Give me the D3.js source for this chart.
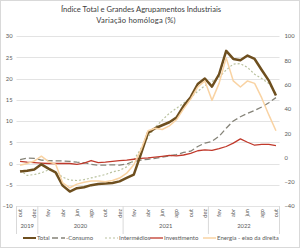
<!DOCTYPE html>
<html>
<head>
<meta charset="utf-8">
<script src="https://cdn.jsdelivr.net/npm/d3@7"></script>
<style>
    body{
        margin : 0;
        background : #fff;
    }
    text{
        font-family : Lato, "Open Sans", sans-serif;
    }
</style>
</head>
<body>
<div id="chart"></div>
<script>
    // meses de out 2019 a out 2022
    const months = ['out','nov','dez','jan','fev','mar','abr','mai','jun','jul','ago','set',
        'out','nov','dez','jan','fev','mar','abr','mai','jun','jul','ago','set',
        'out','nov','dez','jan','fev','mar','abr','mai','jun','jul','ago','set','out'];
    const years = [
        {label:'2019', from:0, to:2},
        {label:'2020', from:3, to:14},
        {label:'2021', from:15, to:26},
        {label:'2022', from:27, to:36}
    ];
    const leftTicks = [-10,-5,0,5,10,15,20,25,30];
    const rightTicks = [-40,-20,0,20,40,60,80,100];

    const total = [-1.9,-1.7,-1.4,-0.2,-1.2,-2.1,-5.2,-6.6,-5.8,-5.6,-5.1,-4.8,
        -4.7,-4.6,-4.2,-3.4,-2.6,2.2,7.2,8.3,9.0,9.7,10.8,13.5,
        15.6,18.7,20.0,18.1,21.0,26.5,24.6,24.3,25.4,24.6,22.0,19.5,16.0];
    const consumo = [0.9,1.3,1.2,0.8,0.7,0.6,0.6,0.5,0.3,0.2,-0.2,-0.4,
        -0.4,-0.3,-0.4,-0.1,0.5,0.8,1.0,1.2,1.5,1.8,2.1,2.6,
        2.9,4.0,4.8,5.2,6.4,8.3,10.0,11.0,11.8,12.5,13.3,14.3,15.5];
    const intermedios = [-1.6,-2.8,-2.6,-2.2,-1.5,-2.0,-3.2,-3.9,-4.0,-3.8,-3.4,-3.0,
        -2.6,-2.0,-1.6,-0.8,0.8,3.5,6.2,8.5,10.2,11.8,13.0,14.2,
        15.5,17.0,18.3,19.3,20.3,22.0,23.4,23.5,22.6,21.0,20.0,18.8,16.5];
    const investimento = [0.5,0.3,0.2,0.1,0.0,0.0,0.0,0.0,-0.2,0.1,0.7,0.2,
        0.3,0.5,0.7,0.8,1.0,1.2,1.3,1.5,1.7,1.9,1.8,2.0,
        2.4,3.0,3.2,3.1,3.5,4.0,4.8,5.8,5.0,4.3,4.5,4.5,4.2];
    const energia = [-6.5,-5,-3,1,-3.5,-5.5,-21,-25,-22,-20.5,-19.5,-19.5,
        -20,-19,-17,-13,-6,6,22,24,23,26,31,40,
        48,58,63,47,61,82,63,58,63,61,49,35,22];

    const series = [
        {name:'Total', values:total, axis:'left', color:'#6e4f1f', width:2.5, dash:null},
        {name:'-Consumo', values:consumo, axis:'left', color:'#858378', width:1.3, dash:'6,3'},
        {name:'Intermédios', values:intermedios, axis:'left', color:'#b9c29f', width:1.2, dash:'2,2'},
        {name:'Investimento', values:investimento, axis:'left', color:'#c0392b', width:1.3, dash:null},
        {name:'Energia - eixo da direita', values:energia, axis:'right', color:'#f9d3a3', width:1.5, dash:null}
    ];

    const width = 300, height = 248;
    const plot = {left:16.5, right:279.5, top:36, bottom:206};

    let svg = d3.select('#chart').append('svg')
        .attr('width',width)
        .attr('height',height);

    svg.append('rect')
        .attr('x',0.5).attr('y',0.5)
        .attr('width',width-1).attr('height',height-1)
        .attr('fill','#fff')
        .attr('stroke','#d9d9d9');

    let x = d3.scalePoint()
        .domain(d3.range(months.length))
        .range([plot.left,plot.right])
        .padding(0.5);
    let step = x.step();

    let yL = d3.scaleLinear().domain([-10,30]).range([plot.bottom,plot.top]);
    let yR = d3.scaleLinear().domain([-40,100]).range([plot.bottom,plot.top]);

    // titulo
    svg.append('text')
        .attr('x',141).attr('y',11.5)
        .attr('text-anchor','middle')
        .style('font-size','7.6px')
        .style('fill','#404040')
        .text('Índice Total e Grandes Agrupamentos Industriais');
    svg.append('text')
        .attr('x',136).attr('y',23)
        .attr('text-anchor','middle')
        .style('font-size','7.6px')
        .style('letter-spacing','0.2px')
        .style('fill','#404040')
        .text('Variação homóloga (%)');

    // grelha
    svg.append('g')
        .selectAll('line')
        .data(leftTicks)
        .enter()
        .append('line')
        .attr('x1',plot.left).attr('x2',plot.right)
        .attr('y1',function(d){return Math.round(yL(d))+0.5;})
        .attr('y2',function(d){return Math.round(yL(d))+0.5;})
        .attr('stroke','#e3e3e3')
        .attr('stroke-width',1);

    let leftAxis = svg.append('g')
        .attr('transform','translate('+(plot.left)+',0)')
        .call(d3.axisLeft(yL).tickValues(leftTicks).tickSize(0).tickPadding(4));
    let rightAxis = svg.append('g')
        .attr('transform','translate('+(plot.right)+',0)')
        .call(d3.axisRight(yR).tickValues(rightTicks).tickSize(0).tickPadding(5));
    [leftAxis,rightAxis].forEach(function(a){
        a.select('.domain').remove();
        a.selectAll('text')
            .style('font-size','5.8px')
            .style('fill','#595959')
            .style('font-family','Lato, "Open Sans", sans-serif');
    });

    // eixo das categorias (meses e anos)
    let xAxis = svg.append('g');
    xAxis.selectAll('text.month')
        .data(months.map(function(m,i){return {m:m,i:i};}).filter(function(d){return d.i%2===0;}))
        .enter()
        .append('text')
        .attr('class','month')
        .attr('transform',function(d){return 'translate('+x(d.i)+','+(plot.bottom+3)+') rotate(-90)';})
        .attr('dy','0.35em')
        .attr('text-anchor','end')
        .style('font-size','5.6px')
        .style('fill','#595959')
        .text(function(d){return d.m;});

    let bounds = [plot.left].concat(years.map(function(y){return x(y.to)+step/2;}));
    xAxis.selectAll('line.sep')
        .data(bounds)
        .enter()
        .append('line')
        .attr('class','sep')
        .attr('x1',function(d){return d;}).attr('x2',function(d){return d;})
        .attr('y1',plot.bottom).attr('y2',plot.bottom+28)
        .attr('stroke','#d9d9d9');

    xAxis.selectAll('text.year')
        .data(years)
        .enter()
        .append('text')
        .attr('class','year')
        .attr('x',function(d){return (x(d.from)+x(d.to))/2;})
        .attr('y',plot.bottom+22)
        .attr('text-anchor','middle')
        .style('font-size','5.8px')
        .style('fill','#595959')
        .text(function(d){return d.label;});

    // linhas
    let lines = svg.append('g');
    let drawOrder = [1,2,3,0,4];
    drawOrder.forEach(function(k){
        let s = series[k];
        let yScale = s.axis==='left' ? yL : yR;
        let line = d3.line()
            .x(function(d,i){return x(i);})
            .y(function(d){return yScale(d);});
        lines.append('path')
            .datum(s.values)
            .attr('d',line)
            .attr('fill','none')
            .attr('stroke',s.color)
            .attr('stroke-width',s.width)
            .attr('stroke-dasharray',s.dash)
            .attr('stroke-linejoin','round');
    });

    // legenda
    const legendX = [23,52,105,150,203];
    let legend = svg.append('g')
        .attr('transform','translate(0,238)');
    let item = legend.selectAll('g')
        .data(series)
        .enter()
        .append('g')
        .attr('transform',function(d,i){return 'translate('+legendX[i]+',0)';});
    item.append('line')
        .attr('x1',0).attr('x2',13)
        .attr('y1',0).attr('y2',0)
        .attr('stroke',function(d){return d.color;})
        .attr('stroke-width',function(d){return Math.min(d.width,2);})
        .attr('stroke-dasharray',function(d){return d.dash;});
    item.append('text')
        .attr('x',14).attr('y',0)
        .attr('dy','0.35em')
        .style('font-size','6px')
        .style('fill','#595959')
        .text(function(d){return d.name;});
</script>
</body>
</html>
